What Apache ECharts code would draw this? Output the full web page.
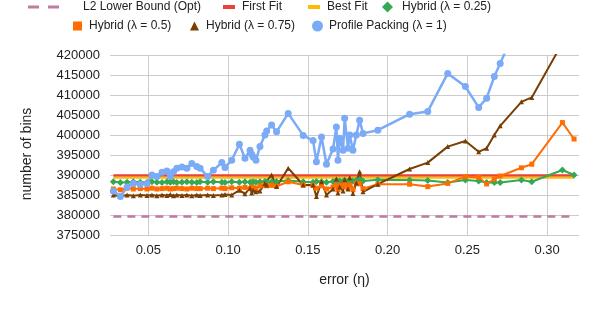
<!DOCTYPE html>
<html><head><meta charset="utf-8">
<script src="https://cdn.jsdelivr.net/npm/echarts@6/dist/echarts.min.js"></script>
<style>html,body{margin:0;padding:0;background:#fff}#c{width:598px;height:314px}</style>
</head><body><div id="c"></div>
<script>
const errors = [0.0281,0.0325,0.0367,0.0406,0.0450,0.0492,0.0523,0.0554,0.0586,0.0617,
0.0638,0.0658,0.0679,0.0711,0.0742,0.0773,0.0804,0.0825,0.0872,0.0908,
0.0961,0.0981,0.1023,0.1071,0.1106,0.1138,0.1148,0.1158,0.1175,0.1200,
0.1231,0.1242,0.1273,0.1304,0.1377,0.1471,0.1533,0.1554,0.1586,0.1617,
0.1658,0.1679,0.1689,0.1700,0.1721,0.1731,0.1752,0.1763,0.1783,0.1804,
0.1825,0.1846,0.1939,0.2138,0.2252,0.2377,0.2488,0.2571,0.2621,0.2669,
0.2706,0.2839,0.2904,0.3096,0.3169];
const l2Bound = 379600;
const firstFit = 389900;
const bestFit = 389300;
const hybrid025 = [388300,388100,388200,388300,388200,388100,388300,388200,388100,388300,
388200,388300,388100,388200,388300,388200,388100,388300,388200,388300,
388200,388100,388300,388200,388300,388200,388100,388300,388200,388300,
388400,388200,388300,388400,388600,388300,388200,388400,388300,388200,
388400,388600,388300,388500,388400,388700,388400,388600,388500,388700,
388800,388500,388800,388750,388600,388100,388750,388500,388100,388100,
388100,388750,388300,391250,390000];
const hybrid05 = [386500,386300,386700,386500,386600,386500,386700,386500,386600,386700,
386500,386600,386700,386600,386500,386700,386600,386600,386700,386600,
386700,386600,386800,386700,386900,386600,387000,386800,386700,387300,
387500,387300,387400,387200,388300,387500,387400,386700,387300,386500,
387000,387500,386300,387400,387000,387800,386800,387500,386400,387900,
387800,386600,387700,387700,387100,387900,389600,389400,387750,389000,
389750,391800,392700,403100,399000];
const hybrid075 = [385000,384700,385000,384800,385000,384900,385000,384800,385000,384900,
385100,384800,385000,384900,385000,384800,385000,384900,385000,384900,
385000,385100,385000,386200,385300,386700,385500,386200,385800,386000,
387900,387500,390000,387100,391700,387500,387500,384600,388300,385000,
386500,389000,385500,387000,386000,388800,386500,389300,385400,388000,
390800,385800,387700,391500,393100,397100,398500,395800,396700,400000,
402300,408300,409400,423000,430000];
const profilePacking = [386000,384600,387000,387900,387700,387900,390000,389600,390700,391000,
389600,390800,391700,392000,391700,392900,392100,391700,389600,391200,
393100,391900,393700,397700,394200,396200,395200,394500,393700,397100,
400000,401000,402500,400800,405400,399900,398600,393300,399500,392700,
396500,402000,393700,399200,396200,404200,396700,400000,396200,400000,
403700,400400,401200,405200,405900,415400,412100,406900,409200,414600,
417900,430000,435000,445000,450000];
const xTicks = [0.05,0.10,0.15,0.20,0.25,0.30];
const names = ['L2 Lower Bound (Opt)','First Fit','Best Fit','Hybrid (λ = 0.25)','Hybrid (λ = 0.5)','Hybrid (λ = 0.75)','Profile Packing (λ = 1)'];

const pair = ys => errors.map((x,i)=>[x,ys[i]]);
const flat = v => errors.map(x=>[x,v]);
const FONT = '"Liberation Sans", Arial, sans-serif';
const colors = {l2:'#c27ba0', ff:'#ea4335', bf:'#fbbc04', g:'#34a853', o:'#ff6d01', b:'#783f04', p:'#7baaf7'};

function lg(name, left, top, icon, w, h, pad){
  return {show:true, data:[{name:name, icon:icon}], left:left, top:top, padding:0,
    itemWidth:w, itemHeight:h, selectedMode:false,
    textStyle:{fontFamily:FONT, fontSize:12, color:'#222', padding:[0,0,0,pad||0]}};
}

const chart = echarts.init(document.getElementById('c'), null, {renderer:'canvas'});
chart.setOption({
  animation:false,
  textStyle:{fontFamily:FONT},
  legend:[
    lg(names[0], 28, 1, 'path://M0,0H11V3H0Z M20,0H31V3H20Z', 31, 3, 19),
    lg(names[1], 223, 1, 'rect', 12, 4, 2),
    lg(names[2], 308, 1, 'rect', 12, 4, 2),
    lg(names[3], 382, 1, 'diamond', 11, 11, 4),
    lg(names[4], 73, 20, 'rect', 9, 9, 2),
    lg(names[5], 190, 20, 'triangle', 9, 9, 2),
    lg(names[6], 312, 20, 'circle', 11, 11, 1)
  ],
  grid:{left:110, right:19, top:55, bottom:79, containLabel:false},
  xAxis:{type:'value', min:0.026, max:0.32,
    name:'error (η)', nameLocation:'middle', nameGap:38,
    nameTextStyle:{fontFamily:FONT, fontSize:14, color:'#222'},
    axisLine:{show:false}, axisTick:{show:false, customValues:xTicks},
    axisLabel:{customValues:xTicks, margin:9, fontFamily:FONT, fontSize:13, color:'#222', formatter:v=>v.toFixed(2)},
    splitLine:{show:true, lineStyle:{color:'#cccccc', width:1}}},
  yAxis:{type:'value', min:375000, max:420000, interval:5000,
    axisLine:{show:false}, axisTick:{show:false},
    axisLabel:{margin:10, fontFamily:FONT, fontSize:13, color:'#222', formatter:v=>String(v)},
    splitLine:{show:true, lineStyle:{color:'#cccccc', width:1}}},
  graphic:[{type:'text', x:27, y:154, rotation:Math.PI/2,
    style:{text:'number of bins', fontFamily:FONT, fontSize:14, fill:'#222', textAlign:'center', textVerticalAlign:'middle'}}],
  series:[
    {name:names[0], type:'line', data:flat(l2Bound), symbol:'none', color:colors.l2,
      lineStyle:{color:colors.l2, width:2.5, type:[8,6]}},
    {name:names[1], type:'line', data:flat(firstFit), symbol:'none', color:colors.ff,
      lineStyle:{color:colors.ff, width:2.5}},
    {name:names[2], type:'line', data:flat(bestFit), symbol:'none', color:colors.bf,
      lineStyle:{color:colors.bf, width:2}},
    {name:names[3], type:'line', data:pair(hybrid025), symbol:'diamond', symbolSize:7, color:colors.g,
      lineStyle:{color:colors.g, width:2}, itemStyle:{color:colors.g}},
    {name:names[4], type:'line', data:pair(hybrid05), symbol:'rect', symbolSize:5, color:colors.o,
      lineStyle:{color:colors.o, width:2}, itemStyle:{color:colors.o}},
    {name:names[5], type:'line', data:pair(hybrid075), symbol:'triangle', symbolSize:5, color:colors.b,
      lineStyle:{color:colors.b, width:2}, itemStyle:{color:colors.b}},
    {name:names[6], type:'line', data:pair(profilePacking), symbol:'circle', symbolSize:7, color:colors.p,
      lineStyle:{color:colors.p, width:2.5}, itemStyle:{color:colors.p}}
  ]
});
</script></body></html>
